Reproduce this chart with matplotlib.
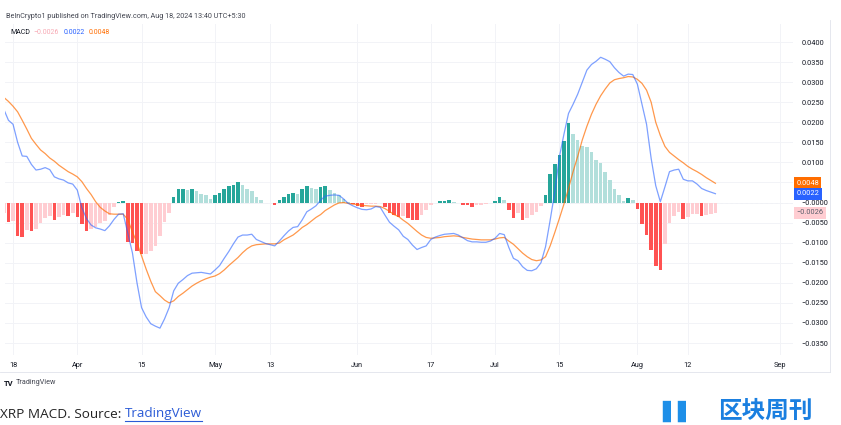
import numpy as np
import pandas as pd
import matplotlib
matplotlib.use("Agg")
import matplotlib.pyplot as plt
import matplotlib.dates as mdates
from matplotlib.lines import Line2D
from matplotlib.transforms import blended_transform_factory

plt.rcParams["font.family"] = ["Roboto", "DejaVu Sans"]

# daily data, Mar 16 .. Aug 18 2024
dates = pd.date_range("2024-03-16", "2024-08-18", freq="D")

macd = [
    0.0232, 0.0205, 0.0195, 0.0150, 0.0116, 0.0115, 0.0095, 0.0081, 0.0083, 0.0087,
    0.0082, 0.0064, 0.0059, 0.0056, 0.0049, 0.0046, 0.0031, -0.0013, -0.0040, -0.0056,
    -0.0063, -0.0066, -0.0070, -0.0058, -0.0042, -0.0029, -0.0028, -0.0077, -0.0125, -0.0200,
    -0.0262, -0.0285, -0.0302, -0.0308, -0.0313, -0.0290, -0.0262, -0.0220, -0.0201, -0.0192,
    -0.0182, -0.0176, -0.0175, -0.0174, -0.0176, -0.0178, -0.0168, -0.0157, -0.0139, -0.0122,
    -0.0103, -0.0086, -0.0081, -0.0081, -0.0079, -0.0092, -0.0097, -0.0102, -0.0105, -0.0108,
    -0.0096, -0.0083, -0.0071, -0.0062, -0.0060, -0.0043, -0.0023, -0.0016, -0.0008, 0.0006,
    0.0016, 0.0018, 0.0019, 0.0018, 0.0009, -0.0002, -0.0008, -0.0013, -0.0017, -0.0018,
    -0.0016, -0.0010, -0.0012, -0.0031, -0.0049, -0.0059, -0.0068, -0.0084, -0.0092, -0.0106,
    -0.0117, -0.0112, -0.0108, -0.0092, -0.0086, -0.0082, -0.0079, -0.0078, -0.0077, -0.0081,
    -0.0088, -0.0095, -0.0098, -0.0098, -0.0099, -0.0099, -0.0096, -0.0089, -0.0077, -0.0080,
    -0.0112, -0.0139, -0.0145, -0.0160, -0.0169, -0.0170, -0.0165, -0.0150, -0.0110, -0.0044,
    0.0026, 0.0113, 0.0170, 0.0222, 0.0245, 0.0270, 0.0300, 0.0330, 0.0344, 0.0352,
    0.0362, 0.0357, 0.0351, 0.0336, 0.0324, 0.0315, 0.0320, 0.0319, 0.0295, 0.0245,
    0.0195, 0.0110, 0.0042, 0.0002, 0.0039, 0.0077, 0.0081, 0.0083, 0.0058, 0.0054,
    0.0054, 0.0046, 0.0035, 0.0030, 0.0026, 0.0022,
]

signal = [
    0.0262, 0.0252, 0.0240, 0.0226, 0.0205, 0.0183, 0.0160, 0.0145, 0.0131, 0.0122,
    0.0111, 0.0103, 0.0093, 0.0085, 0.0077, 0.0071, 0.0064, 0.0052, 0.0035, 0.0020,
    0.0002, -0.0012, -0.0021, -0.0028, -0.0029, -0.0029, -0.0029, -0.0042, -0.0073, -0.0100,
    -0.0133, -0.0166, -0.0196, -0.0222, -0.0232, -0.0243, -0.0250, -0.0245, -0.0234, -0.0226,
    -0.0217, -0.0208, -0.0201, -0.0195, -0.0190, -0.0186, -0.0183, -0.0177, -0.0168, -0.0157,
    -0.0147, -0.0137, -0.0125, -0.0115, -0.0108, -0.0105, -0.0104, -0.0103, -0.0103, -0.0103,
    -0.0101, -0.0093, -0.0087, -0.0081, -0.0072, -0.0062, -0.0055, -0.0046, -0.0037, -0.0030,
    -0.0020, -0.0013, -0.0006, -0.0001, 0.0000, -0.0002, -0.0004, -0.0005, -0.0007, -0.0008,
    -0.0009, -0.0009, -0.0010, -0.0015, -0.0022, -0.0030, -0.0035, -0.0044, -0.0052, -0.0062,
    -0.0072, -0.0081, -0.0087, -0.0089, -0.0088, -0.0087, -0.0085, -0.0084, -0.0083, -0.0084,
    -0.0087, -0.0089, -0.0091, -0.0092, -0.0093, -0.0093, -0.0093, -0.0091, -0.0088, -0.0087,
    -0.0096, -0.0104, -0.0115, -0.0126, -0.0135, -0.0142, -0.0145, -0.0143, -0.0135, -0.0108,
    -0.0075, -0.0040, -0.0004, 0.0035, 0.0077, 0.0115, 0.0156, 0.0190, 0.0220, 0.0245,
    0.0266, 0.0283, 0.0298, 0.0306, 0.0309, 0.0311, 0.0314, 0.0313, 0.0307, 0.0297,
    0.0280, 0.0250, 0.0200, 0.0167, 0.0140, 0.0125, 0.0116, 0.0107, 0.0099, 0.0090,
    0.0083, 0.0077, 0.0070, 0.0062, 0.0055, 0.0048,
]

hist = [
    -0.0027, -0.0049, -0.0045, -0.0083, -0.0086, -0.0068, -0.0072, -0.0066, -0.0052, -0.0039,
    -0.0034, -0.0044, -0.0035, -0.0031, -0.0033, -0.0027, -0.0035, -0.0054, -0.0072, -0.0065,
    -0.0060, -0.0052, -0.0047, -0.0031, -0.0010, 0.0002, 0.0004, -0.0099, -0.0100, -0.0120,
    -0.0128, -0.0127, -0.0120, -0.0108, -0.0083, -0.0048, -0.0025, 0.0015, 0.0033, 0.0034,
    0.0032, 0.0034, 0.0029, 0.0021, 0.0019, 0.0010, 0.0018, 0.0023, 0.0034, 0.0041,
    0.0043, 0.0051, 0.0044, 0.0034, 0.0029, 0.0015, 0.0006, -0.0002, -0.0001, -0.0005,
    0.0006, 0.0015, 0.0021, 0.0025, 0.0021, 0.0034, 0.0041, 0.0037, 0.0034, 0.0039,
    0.0041, 0.0031, 0.0025, 0.0019, 0.0008, 0.0001, -0.0003, -0.0008, -0.0010, -0.0004,
    -0.0003, -0.0003, -0.0002, -0.0012, -0.0027, -0.0030, -0.0036, -0.0033, -0.0039, -0.0043,
    -0.0044, -0.0031, -0.0019, -0.0006, -0.0002, 0.0004, 0.0005, 0.0006, 0.0002, -0.0001,
    -0.0006, -0.0007, -0.0010, -0.0006, -0.0005, -0.0004, -0.0002, 0.0004, 0.0013, 0.0006,
    -0.0019, -0.0038, -0.0027, -0.0044, -0.0039, -0.0031, -0.0023, -0.0009, 0.0020, 0.0071,
    0.0096, 0.0118, 0.0154, 0.0199, 0.0170, 0.0156, 0.0141, 0.0139, 0.0127, 0.0107,
    0.0098, 0.0075, 0.0056, 0.0033, 0.0018, 0.0005, 0.0011, 0.0006, -0.0016, -0.0054,
    -0.0082, -0.0119, -0.0159, -0.0168, -0.0104, -0.0050, -0.0033, -0.0024, -0.0041, -0.0036,
    -0.0029, -0.0028, -0.0033, -0.0031, -0.0028, -0.0026,
]

tick_dates = ["2024-03-18", "2024-04-01", "2024-04-15", "2024-05-01", "2024-05-13", "2024-06-01",
              "2024-06-17", "2024-07-01", "2024-07-15", "2024-08-01", "2024-08-12", "2024-09-01"]
tick_labels = ["18", "Apr", "15", "May", "13", "Jun", "17", "Jul", "15", "Aug", "12", "Sep"]
y_ticks = np.arange(-0.035, 0.0401, 0.005)

TEAL, TEAL_LIGHT = "#26a69a", "#b2dfdb"
RED, RED_LIGHT = "#ff5252", "#ffcdd2"
BLUE, ORANGE = "#2962ff", "#ff6d00"
TXT = "#131722"
GRID = "#f2f3f7"

hist = np.array(hist)
prev = np.concatenate([[hist[0]], hist[:-1]])
bar_colors = []
for h, p in zip(hist, prev):
    if h >= 0:
        bar_colors.append(TEAL if h >= p else TEAL_LIGHT)
    else:
        bar_colors.append(RED_LIGHT if h >= p else RED)


def fmt(v):
    return f"{v:.4f}".replace("-", "\u2212")


W, H = 841, 425
fig = plt.figure(figsize=(W / 100, H / 100), dpi=100)


def fx(px):
    return px / W


def fy(py):
    return 1 - py / H


ax = fig.add_axes([fx(5), fy(355), fx(793) - fx(5), fy(24) - fy(355)])

apr1 = mdates.date2num(pd.Timestamp("2024-04-01"))
ax.set_xlim(apr1 - 15.75, apr1 + 155.9)
ax.set_ylim(-0.03799, 0.04449)

ax.bar(dates, hist, width=0.78, color=bar_colors, zorder=2)
ax.plot(dates, signal, color=ORANGE, lw=0.9, alpha=0.7, zorder=3)
ax.plot(dates, macd, color=BLUE, lw=0.9, alpha=0.6, zorder=4)
ax.axhline(0, color="#b8bcc6", lw=0.6, ls=(0, (3, 3)), zorder=1)

# the 0.0050 label is hidden behind the value boxes on the price scale
ylabels = []
for v in y_ticks:
    if abs(v - 0.005) < 1e-9:
        ylabels.append("")
    elif abs(v) < 1e-9:
        ylabels.append("\u22120.0000")
    else:
        ylabels.append(fmt(v))
ax.set_yticks(y_ticks)
ax.set_yticklabels(ylabels)
ax.yaxis.tick_right()
ax.set_xticks([mdates.date2num(pd.Timestamp(d)) for d in tick_dates])
ax.set_xticklabels(tick_labels)
ax.tick_params(axis="y", length=0, pad=6, labelsize=5.3, labelcolor=TXT)
ax.tick_params(axis="x", length=0, pad=5, labelsize=5.3, labelcolor=TXT)
ax.grid(True, color=GRID, lw=0.7, zorder=0)
for s in ax.spines.values():
    s.set_visible(False)

# price scale value boxes
tr = blended_transform_factory(ax.transAxes, ax.transData)
boxes = [(signal[-1], ORANGE, "white"), (macd[-1], BLUE, "white"), (hist[-1], RED_LIGHT, "#5a5e6b")]
for val, bg, fg in boxes:
    ax.text(1.004, val, fmt(val), transform=tr, ha="left", va="center",
            fontsize=5.3, color=fg, zorder=6, clip_on=False,
            bbox=dict(boxstyle="square,pad=0.35", fc=bg, ec="none"))

# header
fig.text(fx(6), fy(17), "BeInCrypto1 published on TradingView.com, Aug 18, 2024 13:40 UTC+5:30",
         fontsize=5.2, color="#434651", va="center")

# legend row, laid out one after another
fig.canvas.draw()
legend_items = [("MACD", TXT), (fmt(hist[-1]), "#f7a9b4"), (fmt(macd[-1]), BLUE), (fmt(signal[-1]), ORANGE)]
xpos = 10
for s, c in legend_items:
    t = fig.text(fx(xpos), fy(33), s, fontsize=5.0, color=c, va="center")
    xpos = t.get_window_extent(fig.canvas.get_renderer()).x1 + 4

# frame lines
fig.add_artist(Line2D([fx(0), fx(830)], [fy(372), fy(372)], color="#e0e3eb", lw=0.6))
fig.add_artist(Line2D([fx(830), fx(830)], [fy(20), fy(372)], color="#e0e3eb", lw=0.6))

# TradingView mark
fig.text(fx(4), fy(383), "TV", fontsize=5.5, fontweight="bold", color=TXT, va="center")
fig.text(fx(16), fy(383), "TradingView", fontsize=5.2, color="#434651", va="center")

# caption
cap = fig.text(fx(0), fy(414), "XRP MACD. Source: ", fontsize=9.7, color="#222222", va="center",
               family=["Open Sans", "DejaVu Sans"])
fig.canvas.draw()
bb = cap.get_window_extent()
link = fig.text(bb.x1 / W, fy(414), "TradingView", fontsize=9.7, color="#2b5bd6", va="center",
                family=["Open Sans", "DejaVu Sans"])
fig.canvas.draw()
lb = link.get_window_extent()
fig.add_artist(Line2D([lb.x0 / W, lb.x1 / W], [(lb.y0 - 0.5) / H, (lb.y0 - 0.5) / H],
                      color="#2b5bd6", lw=0.8))

# site logo
fig.text(fx(662), fy(411), "\u258c\u258c", fontsize=15, color="#1e8fe8", va="center")
fig.text(fx(718), fy(411), "区块周刊", fontsize=17, fontweight="bold", color="#1a7fe0", va="center",
         family=["Noto Sans CJK SC", "DejaVu Sans"])

fig.savefig("out.png", dpi=100)
